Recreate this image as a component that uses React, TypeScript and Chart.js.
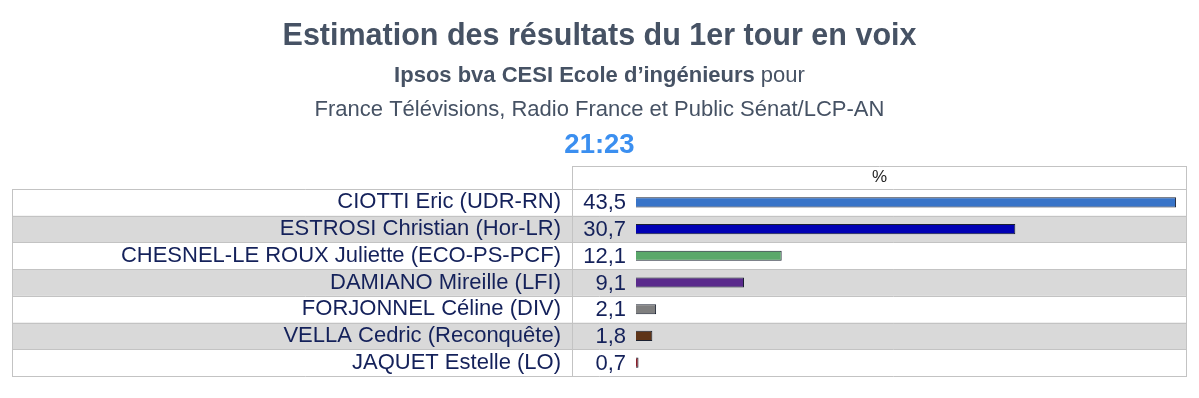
import { useEffect, useRef } from "react";
import { Chart, registerables } from "chart.js";

Chart.register(...registerables);

// ---- data ----
const candidates = [
  "CIOTTI Eric (UDR-RN)",
  "ESTROSI Christian (Hor-LR)",
  "CHESNEL-LE ROUX Juliette (ECO-PS-PCF)",
  "DAMIANO Mireille (LFI)",
  "FORJONNEL Céline (DIV)",
  "VELLA Cedric (Reconquête)",
  "JAQUET Estelle (LO)",
];
const scores = [43.5, 30.7, 12.1, 9.1, 2.1, 1.8, 0.7];
const scoreLabels = ["43,5", "30,7", "12,1", "9,1", "2,1", "1,8", "0,7"];
const barColors = ["#3874c8", "#0000b4", "#5aa86a", "#5a2a8c", "#7f7f7f", "#5e3418", "#8a1f2a"];

const titleText = "Estimation des résultats du 1er tour en voix";
const subtitleBold = "Ipsos bva CESI Ecole d’ingénieurs";
const subtitleNormal = " pour";
const subtitleLine2 = "France Télévisions, Radio France et Public Sénat/LCP-AN";
const timeText = "21:23";
const columnHeader = "%";

// ---- styles ----
const FONT = "'Liberation Sans', Arial, Helvetica, sans-serif";
const NAVY = "#14215a";
const TITLE_GREY = "#465264";
const ROW_GREY = "#d9d9d9";
const LINE_GREY = "#c3c3c3";
const HEADER_H = 23;
const SEP_OFFSET = 64; // separator distance left of plot area
const VALUE_OFFSET = 10;

const tablePlugin = {
  id: "tablePlugin",
  beforeDraw(chart: any) {
    const { ctx, chartArea, width } = chart;
    const yScale = chart.scales.y;
    const n = candidates.length;
    const left = yScale.left;
    const right = chartArea.right;
    const top = chartArea.top;
    const bottom = chartArea.bottom;
    const rowH = (bottom - top) / n;
    const sepX = chartArea.left - SEP_OFFSET;

    ctx.save();
    ctx.fillStyle = "#ffffff";
    ctx.fillRect(0, 0, width, chart.height);

    // row backgrounds
    for (let i = 0; i < n; i++) {
      const cy = yScale.getPixelForValue(i);
      if (i % 2 === 1) {
        ctx.fillStyle = ROW_GREY;
        ctx.fillRect(left, cy - rowH / 2, right - left, rowH);
      }
    }

    // lines
    ctx.strokeStyle = LINE_GREY;
    ctx.lineWidth = 1;
    ctx.beginPath();
    for (let i = 0; i <= n; i++) {
      const yy = Math.round(top + i * rowH) + 0.5;
      ctx.moveTo(left, yy);
      ctx.lineTo(right, yy);
    }
    const headTop = Math.round(top - HEADER_H) + 0.5;
    ctx.moveTo(sepX, headTop);
    ctx.lineTo(right, headTop);
    ctx.moveTo(Math.round(left) + 0.5, top);
    ctx.lineTo(Math.round(left) + 0.5, bottom);
    ctx.moveTo(Math.round(sepX) + 0.5, headTop);
    ctx.lineTo(Math.round(sepX) + 0.5, bottom);
    ctx.moveTo(Math.round(right) - 0.5, headTop);
    ctx.lineTo(Math.round(right) - 0.5, bottom);
    ctx.stroke();

    // header "%"
    ctx.fillStyle = "#222222";
    ctx.font = `17px ${FONT}`;
    ctx.textAlign = "center";
    ctx.textBaseline = "middle";
    ctx.fillText(columnHeader, (sepX + right) / 2, top - HEADER_H / 2);

    // values
    ctx.fillStyle = NAVY;
    ctx.font = `22px ${FONT}`;
    ctx.textAlign = "right";
    for (let i = 0; i < n; i++) {
      ctx.fillText(scoreLabels[i], chartArea.left - VALUE_OFFSET, yScale.getPixelForValue(i) + 1);
    }

    // titles
    const cx = width / 2;
    ctx.textAlign = "center";
    ctx.textBaseline = "alphabetic";
    ctx.fillStyle = TITLE_GREY;
    ctx.font = `bold 30.5px ${FONT}`;
    ctx.fillText(titleText, cx, 45);

    ctx.font = `bold 22px ${FONT}`;
    const wBold = ctx.measureText(subtitleBold).width;
    ctx.font = `22px ${FONT}`;
    const wNorm = ctx.measureText(subtitleNormal).width;
    const startX = cx - (wBold + wNorm) / 2;
    ctx.textAlign = "left";
    ctx.font = `bold 22px ${FONT}`;
    ctx.fillText(subtitleBold, startX, 82);
    ctx.font = `22px ${FONT}`;
    ctx.fillText(subtitleNormal, startX + wBold, 82);

    ctx.textAlign = "center";
    ctx.font = `22px ${FONT}`;
    ctx.fillText(subtitleLine2, cx, 116);

    ctx.fillStyle = "#3b8ff0";
    ctx.font = `bold 27.5px ${FONT}`;
    ctx.fillText(timeText, cx, 153);
    ctx.restore();
  },
};

export default function App() {
  const canvasRef = useRef<HTMLCanvasElement | null>(null);

  useEffect(() => {
    document.body.style.margin = "0";
    const canvas = canvasRef.current;
    if (!canvas) return;
    const chart = new Chart(canvas, {
      type: "bar",
      data: {
        labels: candidates,
        datasets: [
          {
            data: scores,
            backgroundColor: barColors,
            borderColor: "#1a2030",
            borderWidth: 1,
            borderSkipped: false,
            barPercentage: 0.38,
            categoryPercentage: 1,
          },
        ],
      },
      options: {
        indexAxis: "y",
        animation: false,
        responsive: false,
        maintainAspectRatio: false,
        devicePixelRatio: 1,
        layout: { padding: { top: 189, bottom: 22, left: 12, right: 12 } },
        plugins: {
          legend: { display: false },
          title: { display: false },
          tooltip: { enabled: false },
        },
        scales: {
          x: { display: false, min: 0.5, max: 44.37 },
          y: {
            position: "left",
            grid: { display: false, drawTicks: false },
            border: { display: false },
            ticks: {
              color: NAVY,
              font: { family: FONT, size: 22 },
              padding: 75,
              autoSkip: false,
            },
            afterFit(scale: any) {
              scale.width = 624;
              scale.paddingTop = 0;
              scale.paddingBottom = 0;
            },
          },
        },
      },
      plugins: [tablePlugin],
    });
    return () => chart.destroy();
  }, []);

  return (
    <div style={{ width: 1199, height: 398 }}>
      <canvas ref={canvasRef} width={1199} height={398} style={{ display: "block" }} />
    </div>
  );
}
